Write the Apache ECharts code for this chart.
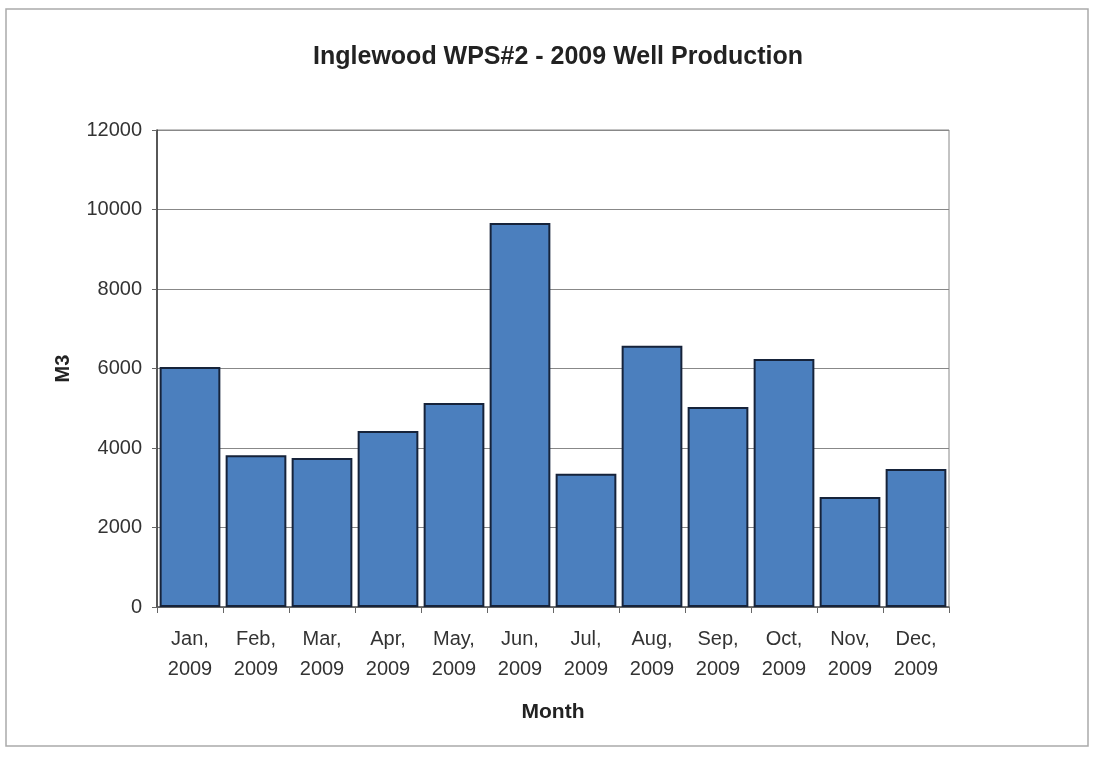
<!DOCTYPE html>
<html>
<head>
<meta charset="utf-8">
<style>html,body{margin:0;padding:0;background:#fff;}#c{width:1094px;height:761px;}</style>
<script src="https://cdn.jsdelivr.net/npm/echarts@6/dist/echarts.min.js"></script>
</head>
<body>
<div id="c"></div>
<script>
const months = ['Jan,\n2009','Feb,\n2009','Mar,\n2009','Apr,\n2009','May,\n2009','Jun,\n2009','Jul,\n2009','Aug,\n2009','Sep,\n2009','Oct,\n2009','Nov,\n2009','Dec,\n2009'];
const production = [6040, 3820, 3750, 4430, 5130, 9660, 3350, 6570, 5030, 6240, 2770, 3470];
const titleText = 'Inglewood WPS#2 - 2009 Well Production';
const yName = 'M3';
const xName = 'Month';

const chart = echarts.init(document.getElementById('c'), null, {renderer: 'canvas'});
chart.setOption({
  backgroundColor: '#fff',
  animation: false,
  textStyle: {fontFamily: 'Liberation Sans, Arial, sans-serif'},
  title: {
    text: titleText, left: 553, top: 40, textAlign: 'center',
    textStyle: {fontSize: 25, fontWeight: 'bold', color: '#222', fontFamily: 'Liberation Sans, Arial, sans-serif'}
  },
  graphic: [{
    type: 'rect', shape: {x: 6, y: 9, width: 1082, height: 737},
    style: {fill: 'none', stroke: '#aaa', lineWidth: 1.5}, silent: true, z: -1
  }],
  grid: {left: 157, right: 145, top: 130, bottom: 154, show: true, borderColor: '#888', borderWidth: 1, backgroundColor: 'transparent'},
  xAxis: {
    type: 'category', data: months, name: xName, nameLocation: 'middle', nameGap: 95,
    nameTextStyle: {fontSize: 21, fontWeight: 'bold', color: '#222'},
    axisLine: {show: true, lineStyle: {color: '#555', width: 1.5}},
    axisTick: {show: true, alignWithLabel: false, length: 6, lineStyle: {color: '#666'}},
    axisLabel: {fontSize: 20, color: '#333', margin: 17, lineHeight: 30, interval: 0}
  },
  yAxis: {
    type: 'value', min: 0, max: 12000, interval: 2000, name: yName, nameLocation: 'middle', nameGap: 84,
    nameRotate: 90,
    nameTextStyle: {fontSize: 20, fontWeight: 'bold', color: '#222'},
    axisLine: {show: true, lineStyle: {color: '#333', width: 1.5}},
    axisTick: {show: true, length: 5, lineStyle: {color: '#666'}},
    axisLabel: {fontSize: 20, color: '#333', margin: 15, formatter: v => String(v)},
    splitLine: {show: true, lineStyle: {color: '#888', width: 1.2}}
  },
  series: [{
    type: 'bar', data: production, barCategoryGap: '8%',
    itemStyle: {color: '#4b7fbe', borderColor: '#16233a', borderWidth: 2}
  }]
});
</script>
</body>
</html>
